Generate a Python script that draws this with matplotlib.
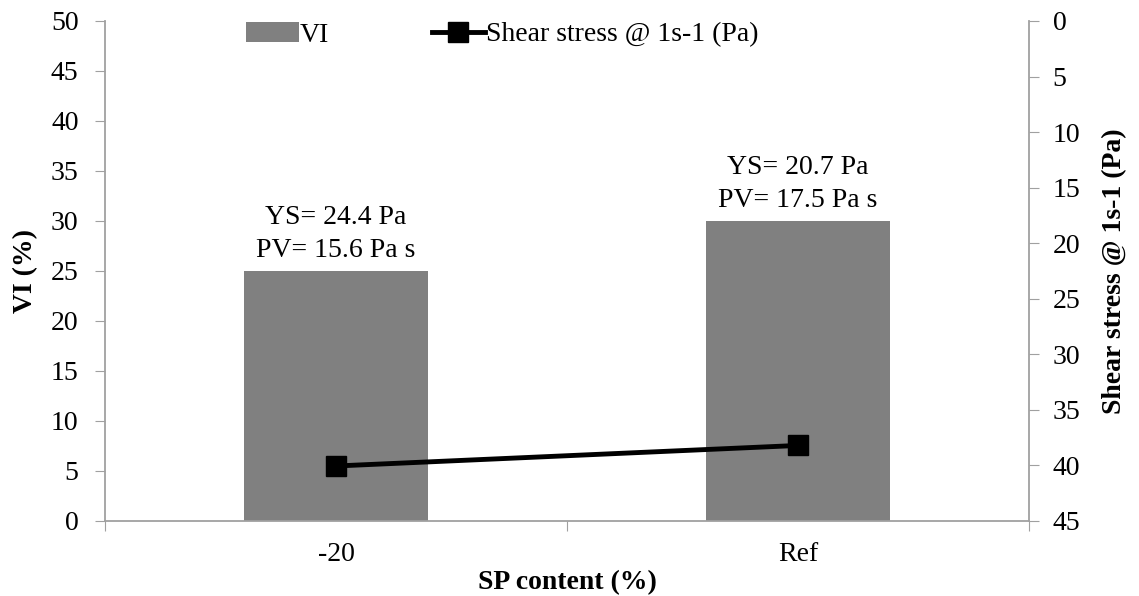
import numpy as np
import matplotlib
matplotlib.use('Agg')
import matplotlib.pyplot as plt

plt.rcParams['font.family'] = ['Liberation Serif', 'DejaVu Serif']
plt.rcParams['font.size'] = 20

categories = ['-20', 'Ref']
vi = [25.0, 30.0]
shear_stress = [40.05, 38.2]
notes = ['YS= 24.4 Pa\nPV= 15.6 Pa s', 'YS= 20.7 Pa\nPV= 17.5 Pa s']

axis_gray = '#a0a0a0'
bar_gray = '#808080'

fig = plt.figure(figsize=(11.39, 5.96), dpi=100)
ax = fig.add_axes([105 / 1139, 1 - 521 / 596, 924 / 1139, 500 / 596])
ax2 = ax.twinx()

x = np.arange(len(categories))
bars = ax.bar(x, vi, width=0.4, color=bar_gray, label='VI', zorder=2)
for xi, v, txt in zip(x, vi, notes):
    ax.annotate(txt, (xi, v), xytext=(0, 6), textcoords='offset points',
                ha='center', va='bottom', linespacing=1.4)

line, = ax2.plot(x, shear_stress, color='black', lw=3.5, marker='s',
                 markersize=14, label='Shear stress @ 1s-1 (Pa)')

ax.set_xlim(-0.5, 1.5)
ax.set_ylim(0, 50)
ax.set_yticks(np.arange(0, 51, 5))
ax2.set_ylim(45, 0)
ax2.set_yticks(np.arange(0, 46, 5))

# category labels sit between the boundary ticks
ax.set_xticks([-0.5, 0.5, 1.5])
ax.set_xticklabels([])
ax.set_xticks(x, minor=True)
ax.set_xticklabels(categories, minor=True)
ax.tick_params(axis='x', which='major', length=7, color=axis_gray, direction='out')
ax.tick_params(axis='x', which='minor', length=0, pad=15)
ax.tick_params(axis='y', length=7, color=axis_gray, direction='out', pad=12)
ax2.tick_params(axis='y', length=7, color=axis_gray, direction='out', pad=10)

for a in (ax, ax2):
    a.spines['top'].set_visible(False)
    for s in ('left', 'right', 'bottom'):
        a.spines[s].set_color(axis_gray)
        a.spines[s].set_linewidth(1.3)
ax.spines['right'].set_visible(False)
ax2.spines['left'].set_visible(False)
ax2.spines['bottom'].set_visible(False)

ax.set_xlabel('SP content (%)', fontweight='bold', labelpad=2)
ax.set_ylabel('VI (%)', fontweight='bold', labelpad=9)
ax2.set_ylabel('Shear stress @ 1s-1 (Pa)', fontweight='bold', labelpad=16)

ax.legend([bars, line], ['VI', 'Shear stress @ 1s-1 (Pa)'], ncol=2,
          loc='upper center', bbox_to_anchor=(0.43, 1.02), frameon=False,
          handlelength=1.9, handletextpad=0.05, columnspacing=3.7,
          borderaxespad=0)

fig.savefig('out.png', dpi=100)
